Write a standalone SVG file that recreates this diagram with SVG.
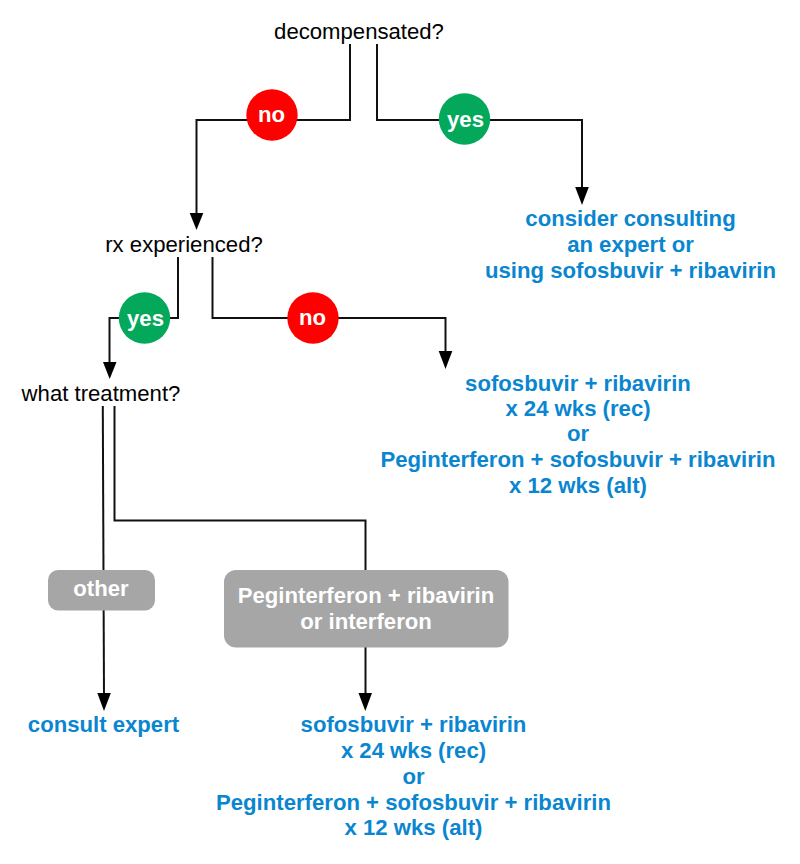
<svg xmlns="http://www.w3.org/2000/svg" width="800" height="864" viewBox="0 0 800 864">
<style>
text{font-family:"Liberation Sans",Arial,sans-serif;font-size:22.15px;text-anchor:middle}
.q{fill:#000}
.r{fill:#0a86d0;font-weight:bold}
.w{fill:#fff;font-weight:bold}
.c{fill:none;stroke:#111;stroke-width:2}
.g{fill:#a6a6a6}
</style>
<rect width="800" height="864" fill="#fff"/>
<g id="connectors">
<path class="c" d="M350 44V120H196.500V216"/>
<path class="c" d="M377 44V120H582V191"/>
<path class="c" d="M178 257V318H109.500V366"/>
<path class="c" d="M212.500 257V318H445.500V354"/>
<path class="c" d="M102.800 406L104 696"/>
<path class="c" d="M114.500 406V520.500H365.500V696"/>
<g fill="#000">
<path d="M189.700 213H203.300L196.500 230Z"/>
<path d="M575.200 187H588.800L582 205Z"/>
<path d="M103 362H116.500L109.700 379Z"/>
<path d="M438.700 351H452.300L445.500 369Z"/>
<path d="M97.300 693H110.800L104 711Z"/>
<path d="M358.500 693H372L365.300 711Z"/>
</g>
</g>
<g id="q1"><text class="q" x="359" y="39">decompensated?</text></g>
<g id="no1"><circle cx="272" cy="115" r="25.700" fill="#fe0000"/><text class="w" x="271.500" y="122">no</text></g>
<g id="yes1"><circle cx="464.500" cy="119" r="25.700" fill="#04a85b"/><text class="w" x="465.500" y="127">yes</text></g>
<g id="r1"><text class="r" x="630.500" y="226">consider consulting</text><text class="r" x="630.500" y="252">an expert or</text><text class="r" x="630.500" y="278">using sofosbuvir + ribavirin</text></g>
<g id="q2"><text class="q" x="184" y="252">rx experienced?</text></g>
<g id="yes2"><circle cx="144.500" cy="318" r="25.700" fill="#04a85b"/><text class="w" x="145.500" y="326">yes</text></g>
<g id="no2"><circle cx="313" cy="318" r="25.700" fill="#fe0000"/><text class="w" x="312.500" y="325">no</text></g>
<g id="r2"><text class="r" x="578" y="391">sofosbuvir + ribavirin</text><text class="r" x="578" y="416">x 24 wks (rec)</text><text class="r" x="578" y="441">or</text><text class="r" x="578" y="467">Peginterferon + sofosbuvir + ribavirin</text><text class="r" x="578" y="493">x 12 wks (alt)</text></g>
<g id="q3"><text class="q" x="101" y="401">what treatment?</text></g>
<g id="other"><rect class="g" x="48" y="570" width="107" height="40.500" rx="10"/><text class="w" x="101" y="596">other</text></g>
<g id="peg"><rect class="g" x="224" y="570" width="284.500" height="77.500" rx="12"/><text class="w" x="366" y="603">Peginterferon + ribavirin</text><text class="w" x="366" y="629">or interferon</text></g>
<g id="r3"><text class="r" x="103.500" y="732">consult expert</text></g>
<g id="r4"><text class="r" x="413.500" y="732">sofosbuvir + ribavirin</text><text class="r" x="413.500" y="758">x 24 wks (rec)</text><text class="r" x="413.500" y="784">or</text><text class="r" x="413.500" y="810">Peginterferon + sofosbuvir + ribavirin</text><text class="r" x="413.500" y="835">x 12 wks (alt)</text></g>
</svg>
